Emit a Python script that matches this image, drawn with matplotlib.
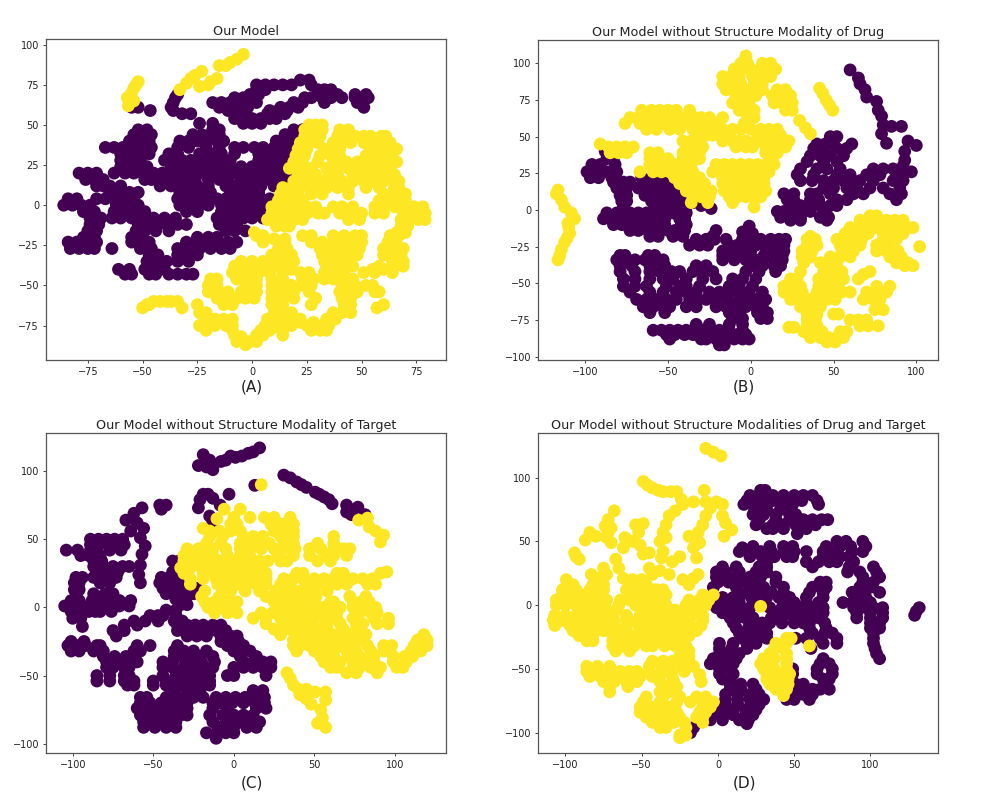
import matplotlib
matplotlib.use("Agg")
import matplotlib.pyplot as plt

# values, each row is (y, [x, x, ...])
a_dark = [
    (78, [22, 26]), (75, [2, 6, 10, 14, 18, 27]), (72, [2, 6, 30, 33, 36]),
    (69, [-1, 3, 31, 35, 39, -34, 47, 52]), (67, [-8, -4, 0, 24, 27, 32, 36, 41, -35, 47, 53]),
    (64, [-18, -14, -10, -6, -2, 2, 19, 23, 33, -36, 48]), (61, [-15, -11, -7, -2, 13, 17, 21, -37, -55, -52, 51]),
    (59, [-46.5, -11, -8, 8, 12, 16, -36]), (57, [-32, -28, -7, -3, 7, 11, 15]),
    (54, [-8, -4, 0, 4, 8, 11]), (51, [-4, 0, 4, -24, -18]),
    (47, [-52, -48, -18, -15, 19, 23]), (44, [-54, -50, -46, -27, -23, -19, -15, 15, 19, 22]),
    (40, [-56, -52, -47, -33, -29, -25, -21, -16, -13, 11, 15, 19, 21]),
    (36, [-67, -63, -59, -55, -50, -46, -34, -29, -21, -15, -8, -4, 1, 5, 10, 14, 18]),
    (32, [-60, -56, -52, -47, -38, -34, -24, -19, -14, -8, 3, 7, 11, 15, 18]),
    (28, [-60, -55, -51, -40, -36, -32, -28, -24, -20, -15, -10, 3, 8, 13, 16]),
    (24, [-60, -56, -52, -48, -37, -33, -28, -24, -20, -15, -10, -5, 0, 5, 9, 13, 15]),
    (20, [-79, -75, -71, -63, -58, -54, -50, -45, -41, -37, -33, -28, -24, -19, -14, -9, -5, -2, 2, 5, 10, 14, 16]),
    (16, [-76, -72, -68, -49, -46, -42, -38, -34, -30, -26, -20, -15, -11, -5, -1, 2, 7, 11, 14]),
    (12, [-71, -68, -65, -60, -42, -37, -33, -28, -25, -20, -12, -8, -4, 0, 4, 10, 13]),
    (8, [-65, -61, -56, -52, -33, -28, -24, -19, -10, -5, -1, 3]),
    (4, [-84, -80, -71, -67, -63, -58, -54, -34, -30, -25, -21, -16, -12, -8, -4, 0, 4, 8]),
    (0, [-86, -82, -78, -74, -62, -57, -52, -33, -29, -24, -20, -14, -10, -6, -2, 2, 6, 10]),
    (-4, [-77, -72, -63, -58, -53, -49, -30, -25, -14, -10, -6, -2, 2, 6]),
    (-8, [-74, -69, -64, -60, -55, -50, -45, -40, -35, -16, -12, -8, -4, 0, 5]),
    (-12, [-74, -70, -52, -47, -43, -39, -34, -30, -15, -11, -7]),
    (-16, [-75, -71, -53, -49, -44, -38, -12, -8, -3]), (-20, [-77, -72, -55, -50, -25, -20, -16]),
    (-23, [-84, -80, -76, -71, -55, -51, -47, -30, -25, -21, -16, -11, -7]),
    (-27, [-83, -79, -75, -72, -64, -51, -46, -34, -29, -24, -19, -14, -10]),
    (-31, [-47, -43, -34, -29, -25]), (-35, [-48, -43, -39, -34, -29]), (-38, [-47, -42]),
    (-40, [-61, -56, -49, -44, -40]), (-43, [-58, -55, -47, -44, -38, -34, -30, -27]),
]
a_light = [
    (94, [-4]), (91, [-7]), (89, [-10]), (87, [-15, -12]), (83.5, [-23]), (81, [-26]), (79, [-16, -28]),
    (77, [-52, -19]), (76, [-30]), (75, [-20, -53]), (74, [-24]), (73, [-54]), (72, [-33]), (70, [-55]),
    (67, [-57]), (65, [-54, -56]), (62, [-56.5]),
    (50, [26, 29, 32]), (47, [24, 28, 32, 40, 44]), (43, [24, 28, 31, 39, 43, 47, 51, 54, 59, 61]),
    (39, [22, 26, 30, 37, 41, 45, 51, 55, 59, 63]), (35, [21, 25, 33, 37, 40, 54, 58, 62, 66]),
    (31, [20, 24, 31, 36, 40, 52, 57, 60, 64]), (27, [19, 23, 30, 37, 43, 48, 53, 57, 63, 66]),
    (23, [17, 22, 27, 34, 39, 44, 48, 51, 55, 59, 63]), (19, [21, 25, 29, 35, 39, 46, 51, 55, 60, 65]),
    (15, [19, 25, 29, 33, 36, 41, 46, 51, 55, 60, 65, 67]), (11, [14, 18, 22, 27, 31, 34, 39, 44, 52, 58, 65, 67]),
    (7, [13, 17, 21, 27, 32, 44, 60, 64, 68, 70]), (3, [12, 16, 20, 23, 58, 62, 66, 70]),
    (-1, [9, 13, 17, 21, 25, 29, 37, 41, 46, 56, 60, 65, 70, 74, 78]),
    (-5, [9, 13, 17, 21, 25, 30, 33, 40, 45, 50, 56, 60, 69, 74, 79]),
    (-9, [7, 11, 15, 19, 23, 44, 49, 68, 72, 76, 79]), (-13, [11, 15, 17, 68, 71]), (-17, [1, 66, 70]),
    (-19, [2, 5, 23, 27, 37, 42, 47, 50, 63, 67]), (-21, [10, 15]),
    (-23, [5, 12, 15, 27, 32, 37, 42, 46, 50, 62, 65]), (-25, [36, 66]), (-27, [12, 16, 31, 36, 41, 46, 49, 60, 65, 69]),
    (-31, [9, 14, 18, 32, 36, 41, 44, 48, 60, 65, 68]), (-35, [-5, 0, 5, 10, 15, 19, 33, 38, 43, 64, 69]),
    (-38, [-8, -3, 2, 5, 10, 15, 34, 39, 46, 58, 65, 69]), (-40, [18, 55, 60]),
    (-42, [-9, -5, -1, 3, 8, 14, 22, 26, 33, 38, 42, 51, 56, 64]),
    (-46, [-19, -16, -7, -2, 2, 9, 14, 23, 25, 28, 33, 37, 42, 46]), (-50, [-20, -16, -3, 2, 9, 12, 18, 23, 27, 41, 45, 47, 52, 55]),
    (-54, [-20, -15, -11, -5, 0, 2, 9, 14, 19, 26, 40, 44, 48, 56, 58]), (-58, [-16, -11, -7, -3, 1, 9, 14, 19, 29, 41, 45]),
    (-60, [-45, -42, -39, -37, -34]), (-62, [-48, -47, -25, -13, -9, 9, 12, 14, 27, 42, 45, 60]), (-64, [-50, -32, 57]),
    (-67, [-24, -21, 10, 14, 18, 37, 41, 45]), (-71, [-21, -17, -13, -9, 7, 12, 17, 22, 34, 38]),
    (-73, [-15, 22, 28]), (-75, [-24, -21, -17, -12, -9, 6, 9, 13, 18, 25, 32, 35]), (-76, [10]), (-78, [-21, -9, 4, 8, 14, 27, 31, 34]),
    (-81, [-8, 2, 5, 14]), (-82, [-5]), (-85, [-7, -4, -1, 2]), (-87, [-3]),
]

b_dark = [
    (95.5, [60]), (90, [65]), (86, [66]), (82, [69]), (77, [70]), (74, [76]), (68, [77]), (64, [79]),
    (58, [80]), (57, [85, 91]), (52, [79]), (50, [48, 52]), (47, [95]), (45.5, [82]), (45, [40, 45, 50, 61]),
    (44, [100]), (42, [38, 44, 52, 58]), (40, [93, -88]), (37, [36, 42, 48, 56]), (34, [93]), (33, [34, 44, 52]),
    (30, [92]), (28, [30, 40, 46, 54, 74, 80, 86]), (26, [97]), (24, [28, 38, 52, 60, 70, 78, 88, 92]),
    (20, [30, 37, 44, 50, 56, 60, 66, 74, 86, 92]), (15, [44, 50, 58, 64, 72, 80, 90]),
    (11, [20, 26, 36, 40, 48, 62, 68, 84, 91]), (7, [22, 26, 36, 41, 52, 58, 88]), (3, [24, 30, 36, 42, 48, 52]),
    (-1, [16, 20, 24, 30, 36, 44]), (-5, [18, 24, 30, 42, 47]), (-7, [24, 30, 46]),
    (35, [-87, -83]), (31, [-96, -91, -82]), (26, [-99, -94, -89, -87, -81]),
    (22, [-97, -92, -84, -66, -60]), (19, [-83, -77, -73, -64, -58, -53]),
    (15, [-81, -75, -68, -62, -56, -50, -46]), (10, [-79, -75, -64, -59, -54, -49, -44, -41]),
    (6, [-78, -75, -60, -55, -50, -45, -39]), (5, [-35]), (3, [-30]), (1, [-24]),
    (2, [-77, -58, -53, -49, -44, -39]), (-2, [-87, -81, -73, -68, -63, -58, -52, -47, -39]),
    (-6, [-89, -84, -78, -73, -67, -62, -58, -52, -43, -40]), (-10, [-83, -78, -72, -66, -61, -58, -52, -42, -39]),
    (-11, [-1]), (-14, [-21, -73, -68, -62, -56, -50, -46, -40]), (-15, [-5]), (-16, [1]),
    (-18, [-61, -56, -47, -41, -23]), (-20, [-33, -27, -22, -15, -5, 0, 6, 12, 17, 21]),
    (-24, [-37, -31, -26, -13, -8, -3, 3, 8, 13, 20]), (-28, [-17, -11, -6, 0, 14, 20]),
    (-31, [-79, -76, -62, -58, -17, -10, -2, 8, 19]), (-34, [-81, -76, -70, -64, -57, -53, -17, -10, -3, 3, 7, 14, 19]),
    (-38, [-79, -72, -61, -52, -33, -27, 1, 7, 14, 18]), (-42, [-79, -70, -61, -55, -48, -43, -35, -29, -23, -3, 5, 15]),
    (-47, [-77, -70, -61, -53, -47, -39, -29, -21, -11, -5, 3]), (-52, [-77, -70, -63, -51, -43, -39, -31, -13, -7, 1]),
    (-56, [-73, -61, -53, -45, -39, -33, -25, -19, -13, -7, -1, 7]),
    (-61, [-69, -63, -57, -51, -45, -37, -33, -27, -21, -14, -7, -1, 3, 9]),
    (-66, [-65, -59, -53, -49, -39, -33, -21, -15, -9, -3, 3, 7]), (-70, [-61, -52, -13, -7, 4, 10]),
    (-74, [-11, -5, 6, 10]), (-78, [-33, -25, -13, -5]),
    (-82, [-59, -54, -49, -44, -39, -34, -29, -24, -19, -13, -5]),
    (-85, [-51, -46, -40, -35, -31, -26, -20, -15, -8, -3]), (-88, [-49, -30, -27, -21, -16, -10, -5, -1]),
    (-92, [-19, -16]),
]
b_light = [
    (13.6, [-116.5]), (11, [-117.5]), (7, [-114.5]), (2, [-112.5]), (-2, [-108.5]), (-6, [-106.5]),
    (-9, [-110.5]), (-12, [-110]), (-16, [-109.5]), (-19, [-111]), (-22, [-112.5]), (-27, [-114.5]), (-31, [-115.5]), (-34, [-116.5]),
    (105, [-3]), (100, [-6, -2, 7, 12]), (96, [-10, -5, 0, 6, 11, 15]), (91, [-17, -12, -7, 1, 6, 12]),
    (86, [-17, -12, -6, 2, 7]), (83, [41.5]), (82, [-15, -10, -4, 3, 7, 16, 21]), (79.5, [43.5]),
    (78, [-9, -3, 3, 13, 18, 24]), (75, [45.5]), (73, [-11, -6, -1, 14, 19, 25]), (71.5, [47.5]),
    (68, [-7, -2, 2, 21, 25, 49.5, -66, -60, -55, -50, -45, -37]),
    (63, [-73, -68, -63, -58, -53, -48, -43, -38, -34, -30, -25, -17, -2, 2]), (61, [29.5]),
    (59, [-76, -67, -62, -57, -52, -47, -42, -37, -32, -26, -21, -4]), (56, [33]), (52, [36]),
    (55, [-63, -57, -49, -43, -35, -30, -24, -21, -17, -11, -6, 0, 6, 11, 16]),
    (51, [-33, -27, -23, -18, -13, 5, 7, 11, 13, 18]), (47, [-41, -36, -31, -17, -11, -7, -3, 3, 7, 11, 17, 23]),
    (45, [-91]), (43, [-86, -81, -76, -71, -39, -34, -29, -9, -3, 1, 9, 15, 21]),
    (39, [-85, -80, -75, -61, -56, -41, -36, -31, 9, 11, 14, 16]), (35, [-61, -56, -50, -41, -36, -31, 13]),
    (31, [-61, -56, -51, -46, -41, -36, -21, -16, -11, -6, -1, 4, 9, 14]),
    (26, [-67, -59, -54, -49, -44, -39, -35, -23, -18, -13, -8, -3, 2, 7, 11]),
    (22, [-46, -41, -36, -31, -17, -12, -7, -2, 3, 8]), (18, [-43, -38, -33, -28, -17, -12, -7, -2, 4, 8]),
    (13, [-39, -34, -29, -24, -16, -11, -6, -1, 5, 9]), (9, [-35, -30, -25, -13, -8, -3, 1, 6]),
    (5, [-36, -26, -11]), (2, [2]),
    (-4, [72, 76]), (-7, [66, 71, 76, 82, 87, 92]), (-12, [60, 65, 70, 75, 80, 85, 90, 95, 98]),
    (-16, [57, 62, 67, 71, 80, 85, 92]), (-18, [36]), (-20, [34, 39, 52, 57, 62, 67, 80, 88]),
    (-24, [34, 40, 54, 60, 66, 76, 83]), (-25, [102]), (-28, [31, 37, 55, 62, 76, 82, 89]),
    (-32, [31, 36, 48, 54, 60, 84, 91]), (-36, [32, 42, 47, 52, 88, 95]), (-38, [93, 98]),
    (-42, [30, 44, 50, 55, 72]), (-44, [68]), (-47, [24, 28, 41, 46, 51, 56, 65]), (-52, [20, 25, 30, 41, 46, 53, 76, 84]),
    (-56, [20, 25, 31, 40, 45, 50, 55, 60, 70, 76, 82]), (-61, [24, 30, 36, 40, 46, 51, 68, 74, 78]),
    (-66, [30, 36, 42]), (-68, [75, 80]), (-71, [34, 40, 50, 53]), (-75, [34, 39, 60, 65, 70]),
    (-79, [34, 40, 66, 71, 77]), (-80, [23, 26]), (-83, [32, 37, 43, 54, 58]), (-87, [36, 42, 47, 52, 56]),
    (-90, [46, 51]),
]

c_dark = [
    (117, [16]), (114, [12]), (113, [9]), (112, [-19]), (111, [5, -2]), (110, [1]), (108, [-15, -5]), (107, [-8]),
    (104, [-22]), (103, [-17]), (101, [-13]), (97, [31]), (95, [35]), (92, [39]), (90, [42]), (89.5, [13]), (88, [45]),
    (84.5, [50.5]), (83, [-16, -3, -19, 53]), (81, [56]), (80, [-13]), (79, [-21, 59]), (76, [61]), (75, [-8.5, -46, -42, 70]),
    (73.5, [77]), (73, [-22, -57]), (72, [-45]), (70, [70]), (69, [-62]), (68, [73, 81.5]), (67, [-15]),
    (64, [-67]), (63, [-13]), (62, [-60]), (58, [-56]), (56, [-64]), (51, [-58]), (45, [-55]), (39, [-57]), (31, [-58]),
    (24, [-59]), (18, [-58]),
    (50, [-89, -84, -79, -74, -69]), (46, [-89, -84, -78, -73, -68]), (42, [-104, -97, -89, -85, -77, -70]),
    (38, [-95, -90, -83]), (34, [-87, -82, -38, -34]), (30, [-87, -81, -75, -69, -65]), (26, [-85, -79, -72, -38, -36]),
    (22, [-98, -94, -87, -80, -73, -45, -40, -36]), (18, [-99, -96, -83, -77, -46, -41, -36, -31]),
    (14, [-44, -39, -33, -28, -23]), (13, [-99, -96]), (10, [-87, -80, -75, -42, -36, -31, -25, -21]),
    (6, [-36, -30]), (5, [-101, -96, -88, -83, -77, -71, -64]), (2, [-33, -29]),
    (1, [-105, -99, -94, -88, -85, -77, -71, -65]), (-2, [-42, -36]), (-3, [-101, -95, -90, -86, -83, -76]),
    (-6, [-52, -47, -44, -36]), (-8, [-100, -95]), (-10, [-62, -55, -47, -37, -32]),
    (-13, [-68, -60, -35, -29, -24, -19, -13, -8]), (-14, [-94]), (-17, [-75, -68, -35, -29, -23, -17, -11, -5]),
    (-21, [-73, -29, -23, -17, -8, -2, 2]), (-25, [-101, -93, -8, 0, 3]),
    (-28, [-103, -97, -92, -85, -83, -60, -52, -35, -4, 2, 6]), (-32, [-101, -96, -87, -81, -62, -58, -37, -31, -25, -17, 0, 6, 10]),
    (-36, [-81, -74, -67, -62, -37, -31, -27, -21, -13, 4, 14]),
    (-40, [-79, -75, -68, -60, -44, -38, -30, -27, -20, -12, 6, 12, 18, 23]),
    (-44, [-79, -75, -68, -65, -44, -38, -31, -25, -19, -13, 0, 6, 12, 18, 23]),
    (-50, [-85, -77, -68, -65, -44, -36, -29, -22, -15, -4, 0, 20]),
    (-54, [-85, -77, -68, -62, -50, -42, -35, -28, -21, -15]), (-57, [-66, -62, -50, -42, -33, -21, -15]),
    (-61, [-37, -29, -25, -21, 12, 18]), (-66, [-58, -54, -42, -35, -29, -25, -19, -11, -5, 1, 7, 13, 19]),
    (-70, [-58, -52, -45, -39, -33, -29, -13, -8, -1, 6, 13, 19]), (-74, [-60, -54, -48, -42, -35, -29, -13, -4, 14, 20]),
    (-79, [-58, -52, -46, -39, -33, -29, -15, -7, 0, 6, 12]), (-84, [-56, -50, -43, -36, -13, -4, 4, 10, 16]),
    (-88, [-56, -49, -42, -36, -9, 0, 8, 14]), (-92, [-17, -11, -5, 0]), (-96, [-11]),
]
c_light = [
    (90, [17]), (65.5, [83]), (64, [77.5]), (59, [84]), (56, [88]), (53, [93]), (48, [91]), (65, [-10.5]), (58, [-19]),
    (72, [-6, 4]), (66, [0, 10, 19, 25, 35]), (61, [-2, 2, 23, 30, 37]), (56, [-15, -9, -2, 4, 25, 31, 37]),
    (52, [-15, -7, 6, 12, 18, 29, 37, 62]), (47, [-17, -8, 4, 10, 16, 22, 31, 37, 52, 62]),
    (43, [-29, -22, -15, -13, -5, 4, 10, 17, 25, 31, 38, 47, 54, 62, 68, 72]),
    (38, [-31, -25, -17, -13, -4, 4, 10, 27, 37, 47, 58, 62, 70]),
    (34, [-31, -25, -19, -13, -8, -2, 4, 10, 16, 21, 29, 33, 52, 60]),
    (29, [-33, -27, -20, -14, -8, -2, 4, 10, 16]), (26, [95]),
    (25, [-31, -19, -13, -8, -2, 4, 10, 16, 20, 39, 43, 64, 68, 91]),
    (21, [-27, -19, -11, -4, 2, 8, 15, 20, 31, 37, 43, 50, 56, 62, 68, 74, 80, 86]),
    (17, [-27, -10, -4, 2, 8, 14, 20, 29, 35, 45, 52, 60, 64, 70, 83, 88]),
    (12, [-18, -7, -2, 7, 16, 26, 31, 37, 41, 44, 50, 58]), (8, [-20, -9, -4, 20, 27, 33, 39, 45, 51, 72, 82]),
    (4, [-18, -12, -5, 2, 25, 31, 37, 44, 50, 60, 62, 74, 79, 84]), (0, [-16, -8, -2, 29, 35, 41, 47, 53, 56, 66, 74, 82, 88]),
    (-4, [-12, -4, 2, 17, 24, 31, 37, 41, 47, 54, 60, 62, 64, 76, 78, 85, 89]),
    (-8, [12, 20, 29, 35, 42, 50, 56, 64, 74, 87, 96]), (-12, [20, 31, 41, 47, 48, 58, 66, 76, 80, 89, 96]),
    (-16, [25, 35, 45, 52, 58, 68, 76]), (-20, [29, 39, 45, 52, 54, 62, 70, 76, 82, 118]),
    (-24, [37, 41, 45, 52, 56, 66, 72, 80, 114, 120]), (-28, [37, 41, 47, 56, 62, 66, 74, 83, 93, 98, 112, 120]),
    (-32, [39, 50, 56, 62, 70, 76, 85, 93, 97, 110, 116]), (-36, [54, 62, 72, 78, 85, 87, 99, 106, 111]),
    (-40, [56, 66, 74, 83, 87, 99, 107]), (-44, [60, 64, 74, 78, 85, 91, 101, 105]), (-48, [33, 70, 76, 89]),
    (-52, [35]), (-57, [37]), (-60, [40, 45]), (-62, [50.5, 57]), (-64, [41]), (-67, [45]), (-68, [57]), (-71, [48]),
    (-75, [54]), (-81, [55]), (-85, [52]), (-88, [57]),
]

d_dark = [
    (90, [28, 31]), (86, [21, 28, 36, 43, 50, 56, 62]), (82, [19, 25, 32, 36, 43, 49, 55, 65]),
    (79, [17, 25, 32, 43, 49, 66]), (75, [24, 32, 41, 47]), (71, [23, 30, 38, 47, 51]),
    (67, [27, 38, 47, 56, 62, 68, 72]), (63, [25, 36, 43, 51, 56, 64]), (60, [32, 36, 43, 54, 58]), (56, [52]),
    (50, [78, 84, 95]), (46, [23, 34, 43, 49, 71, 80, 87, 97]), (45, [16]), (42, [14, 21, 28, 35, 43, 50, 58, 69, 73, 78, 88, 95]),
    (38, [21, 29, 37, 45, 49, 69, 80, 86]), (34, [58, 66, 73, 78, 89, 32]), (30, [3, 12, 27, 32, 62, 86, 102]),
    (26, [-1, 5, 14, 25, 32, 85, 93, 104]), (22, [-1, 7, 14, 21, 28, 38, 95, 106]),
    (18, [0, 7, 14, 19, 26, 38, 67, 71, 95, 102]), (14, [-3, 12, 23, 30, 43, 62, 71, 93, 100]),
    (10, [19, 26, 35, 43, 60, 69, 88, 96, 106]), (6, [3, 10, 14, 22, 32, 40, 47, 58, 69, 91, 97]),
    (2, [1, 10, 14, 25, 43, 50, 58, 66, 82, 88, 91, 100]), (-2, [-1, 6, 14, 21, 34, 42, 50, 57, 63, 69, 89, 97, 102, 108, 132]),
    (-5, [130]), (-6, [3, 10, 20, 38, 46, 54, 63, 69, 91, 100, 108]), (-8, [129]),
    (-10, [8, 13, 18, 23, 35, 42, 50, 55, 60, 66, 91, 100, 108]), (-14, [10, 21, 25, 29, 34, 42, 50, 56, 60, 70, 100, 106]),
    (-18, [12, 20, 27, 60, 71, 100, 106]), (-22, [14, 22, 32, 62, 70, 75, 102]),
    (-26, [16, 25, 32, 51, 58, 67, 78, 102]), (-30, [1, 10, 19, 25, 69, 78, 102]), (-34, [1, 9, 19, 61, 103]),
    (-38, [1, 7, 14, 104]), (-42, [-3, 3, 12, 69, 106]), (-46, [-5, 5, 10, 67, 73]), (-50, [1, 8, 49, 65, 75]),
    (-54, [1, 10, 49, 65, 75]), (-58, [3, 8, 69, 73]), (-62, [8, 15, 23, 51, 56]), (-66, [8, 15, 25, 49, 56, 62, 67, 73]),
    (-70, [5, 13, 21, 27, 49, 56, 62]), (-74, [5, 13, 21, 30, 45, 50, 60]), (-78, [5, 13, 22, 27]), (-79, [-4]),
    (-82, [-5, 2, 10, 18, 25]), (-86, [-4, 3, 10, 18, 23]), (-90, [-5, 3, 14, 20]), (-93, [19]), (-96, [-16]), (-100, [-18]),
]
d_light = [
    (123, [-8]), (120, [-3]), (117, [2]), (97, [-49]), (94, [-46]), (92, [-43]), (90, [-9, -39]), (89, [-36, -31, -27]), (83, [-24]),
    (81, [-16, -8, -1]), (79, [3, -23]), (76, [-5]), (74, [-68, -28]), (70, [3, -32, -8]), (67, [-72]),
    (64.5, [5]), (64, [-49]), (63, [-54, -34, -10]), (62, [-74]), (60.5, [-70]), (59, [9]), (57, [-84, -72, -52, -36, -13]),
    (54, [4, -80, -19]), (53, [-73, -61, -34]), (51, [-87]), (50, [-56, -38]), (49, [-70, -12]), (47, [-51]),
    (45, [-62, -16]), (42, [-36]), (41, [-94, -45]), (40, [-49]), (38, [-93, -25]), (37, [-37, -14]), (36, [-91, -67]),
    (34, [-30]), (29, [-75, -65, -45]), (27, [-38]), (24, [-83, -73, -43, -32, -13]), (21, [-78, -62, -16]), (20, [-23]),
    (20, [-99.5, -56, -50]), (16, [-99, -95, -82, -75, -58, -47, -19]), (12, [-102, -93, -84, -75, -60, -54, -48, -42, -40, -36]),
    (8, [-102, -97, -95, -90, -84, -78, -58, -52, -46, -40, -34, -10, -3]),
    (4, [-106, -100, -94, -86, -80, -73, -64, -58, -52, -45, -40, -19, -12, -6]),
    (0, [-106, -100, -93, -88, -75, -65, -54, -48, -40, -34, -21, -13, -8]), (-1, [28]),
    (-4, [-88, -82, -73, -67, -49, -45, -40, -34, -30, -28, -21, -13]),
    (-8, [-107, -100, -93, -87, -80, -69, -60, -51, -45, -43, -36, -25, -17, -10]),
    (-12, [-108, -102, -95, -88, -85, -80, -75, -68, -60, -58, -45, -38, -32, -27, -19, -10]),
    (-16, [-107, -97, -90, -82, -75, -68, -60, -52, -51, -45, -38, -31, -24, -18, -11]),
    (-20, [-95, -85, -75, -65, -60, -49, -42, -35, -28, -21, -14]), (-24, [-91, -82, -69, -58, -54, -50, -47, -40, -33, -26, -19]),
    (-28, [-86, -82, -69, -65, -62, -55, -54, -49, -43, -36, -29, -23]), (-32, [-69, -62, -55, -47, -43, -35, -28, -21, 60]),
    (-36, [-67, -58, -23, -19]), (-40, [-25, -19]), (-44, [-43, -36, -30, -24, -19]),
    (-48, [-86, -79, -71, -45, -37, -23, -16]), (-52, [-86, -79, -72, -64, -58, -53, -45, -37, -35, -30, -22]),
    (-54.5, [-12]), (-56, [-84, -77, -70, -63, -58, -51, -43, -30]), (-60, [-75, -68, -60, -53, -38, -29, -11]),
    (-64, [-71, -59, -34, -27]), (-68, [-71, -38, -32]), (-72, [-47, -36, -25, -14, -8]), (-76, [-49, -38, -27, -18, -10, -3]),
    (-80, [-51, -44, -38, -32, -10, -5]), (-84, [-51, -44, -37, -31, -27, -12, -8]), (-88, [-47, -40, -33, -25, -14, -10]),
    (-92, [-43, -36, -29, -22, -10]), (-96, [-38, -34, -21]), (-102, [-25, -21]), (-104, [-25]),
    (-26, [45, 48]), (-30, [38, 45]), (-34, [37, 43]), (-38, [34, 45]), (-42, [30, 37, 45]), (-46, [28, 35, 45]),
    (-50, [30, 37, 45]), (-54, [32, 39, 47]), (-58, [32, 40, 46]), (-62, [34, 41, 46]), (-66, [38, 45]), (-71, [43]),
]

titles = ["Our Model", "Our Model without Structure Modality of Drug",
          "Our Model without Structure Modality of Target",
          "Our Model without Structure Modalities of Drug and Target"]
captions = ["(A)", "(B)", "(C)", "(D)"]
points = [(a_dark, a_light), (b_dark, b_light), (c_dark, c_light), (d_dark, d_light)]

W, H = 997, 798
xlims = [(-94.1, 88.5), (-128.6, 113.1), (-116.6, 131.7), (-118, 144.3)]
ylims = [(-96.5, 103.6), (-102.3, 115.9), (-106.8, 127.9), (-116, 135)]
xticks = [[-75, -50, -25, 0, 25, 50, 75], [-100, -50, 0, 50, 100], [-100, -50, 0, 50, 100], [-100, -50, 0, 50, 100]]
yticks = [[-75, -50, -25, 0, 25, 50, 75, 100], [-100, -75, -50, -25, 0, 25, 50, 75, 100],
          [-100, -50, 0, 50, 100], [-100, -50, 0, 50, 100]]
# axes boxes in pixels: left, top, right, bottom
boxes = [(46, 39, 446, 360), (538, 40, 938, 360), (46, 433, 446, 753), (538, 433, 938, 753)]
caption_y = [387, 387, 783, 783]
caption_x = [252, 744, 252, 744]


def flatten(rows):
    xs, ys = [], []
    for y, row in rows:
        for x in row:
            xs.append(x)
            ys.append(y)
    return xs, ys


fig = plt.figure(figsize=(W / 100, H / 100), dpi=100)
for i in range(4):
    l, t, r, b = boxes[i]
    ax = fig.add_axes([l / W, 1 - b / H, (r - l) / W, (b - t) / H])
    dark_x, dark_y = flatten(points[i][0])
    light_x, light_y = flatten(points[i][1])
    xs = dark_x + light_x
    ys = dark_y + light_y
    labels = [0] * len(dark_x) + [1] * len(light_x)
    ax.scatter(xs, ys, c=labels, cmap="viridis", s=85, linewidths=0)
    ax.set_xlim(xlims[i])
    ax.set_ylim(ylims[i])
    ax.set_xticks(xticks[i])
    ax.set_yticks(yticks[i])
    ax.tick_params(labelsize=7, length=2.5, width=0.7, color="#444444", labelcolor="#222222", pad=2.5)
    for s in ax.spines.values():
        s.set_color("#555555")
        s.set_linewidth(0.9)
    ax.set_title(titles[i], fontsize=9.2, color="#222222", pad=3)
    fig.text(caption_x[i] / W, 1 - caption_y[i] / H, captions[i], fontsize=11, color="#222222",
             ha="center", va="center")

fig.savefig("out.png", dpi=100)
